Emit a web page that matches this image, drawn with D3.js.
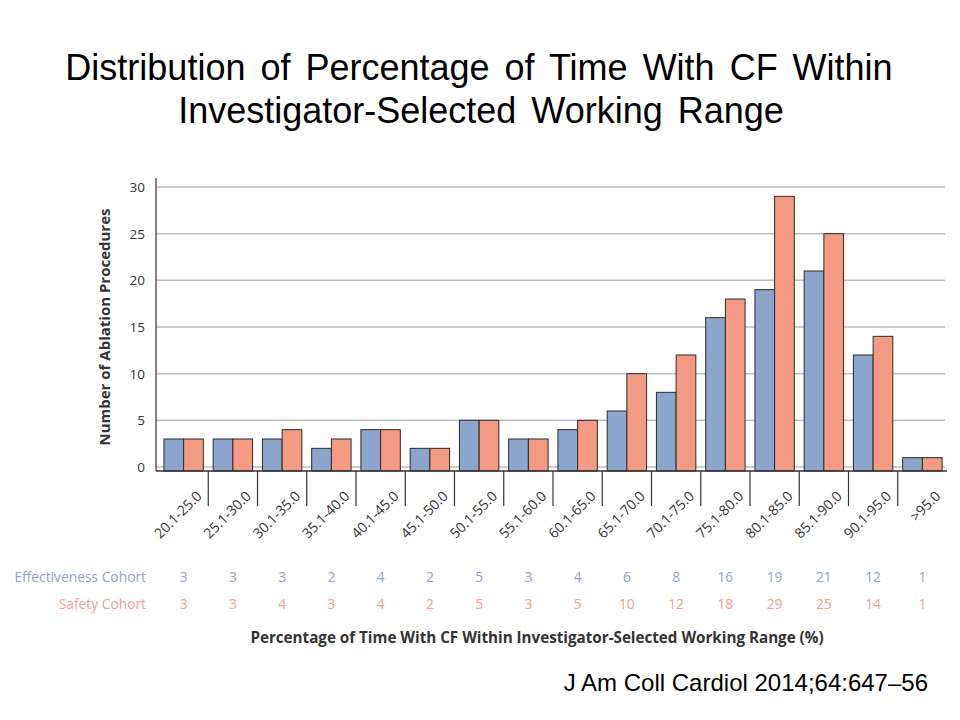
<!DOCTYPE html>
<html lang="en">
<head>
  <meta charset="UTF-8">
  <script src="https://cdnjs.cloudflare.com/ajax/libs/d3/7.8.5/d3.min.js"></script>
  <style>
    body { margin: 0; background: #fff; }
    .chart-text { font-family: 'Open Sans', 'Noto Sans', sans-serif; }
    .title { font-family: 'Liberation Sans', Arial, sans-serif; }
  </style>
  <title>Distribution</title>
</head>
<body>
  <div id="my_dataviz"></div>
<script>
  // categories and values
  const categories = ["20.1-25.0", "25.1-30.0", "30.1-35.0", "35.1-40.0", "40.1-45.0", "45.1-50.0",
    "50.1-55.0", "55.1-60.0", "60.1-65.0", "65.1-70.0", "70.1-75.0", "75.1-80.0",
    "80.1-85.0", "85.1-90.0", "90.1-95.0", ">95.0"];
  const effectiveness = [3, 3, 3, 2, 4, 2, 5, 3, 4, 6, 8, 16, 19, 21, 12, 1];
  const safety = [3, 3, 4, 3, 4, 2, 5, 3, 5, 10, 12, 18, 29, 25, 14, 1];
  const yTicks = [0, 5, 10, 15, 20, 25, 30];
  const seriesNames = ["Effectiveness Cohort", "Safety Cohort"];

  const blue = "#8ca5cd", salmon = "#f59a82";
  const blueText = "#8fa3c8", salmonText = "#f0a08c";

  var width = 960, height = 720;
  var svg = d3.select("#my_dataviz")
    .append("svg")
    .attr("width", width)
    .attr("height", height);

  // titles
  svg.append("text").attr("class", "title")
    .attr("x", 479).attr("y", 80)
    .attr("text-anchor", "middle")
    .style("font-size", "36px")
    .style("word-spacing", "5px")
    .text("Distribution of Percentage of Time With CF Within");
  svg.append("text").attr("class", "title")
    .attr("x", 481).attr("y", 123)
    .attr("text-anchor", "middle")
    .style("font-size", "36px")
    .style("word-spacing", "5px")
    .text("Investigator-Selected Working Range");

  // scales
  var x = d3.scaleBand()
    .domain(categories)
    .range([159, 947]);
  var x1 = d3.scaleBand()
    .domain(seriesNames)
    .range([0, x.bandwidth()])
    .paddingOuter(0.25);
  var y = d3.scaleLinear()
    .domain([0, 30])
    .range([467, 187]);
  var baseY = 471;

  // gridlines
  svg.append("g")
    .selectAll("line")
    .data(yTicks)
    .join("line")
    .attr("x1", 156).attr("x2", 945)
    .attr("y1", d => y(d)).attr("y2", d => y(d))
    .attr("stroke", "#bdbdbd")
    .attr("stroke-width", 1.5);

  // y tick labels
  svg.append("g")
    .selectAll("text")
    .data(yTicks)
    .join("text")
    .attr("class", "chart-text")
    .attr("x", 145)
    .attr("y", d => y(d) + 5)
    .attr("text-anchor", "end")
    .style("font-size", "13.5px")
    .attr("fill", "#333")
    .text(d => d);

  // bars
  var groups = svg.append("g")
    .selectAll("g")
    .data(categories)
    .join("g")
    .attr("transform", d => "translate(" + x(d) + ",0)");

  groups.selectAll("rect")
    .data((d, i) => [
      { key: seriesNames[0], value: effectiveness[i], color: blue },
      { key: seriesNames[1], value: safety[i], color: salmon }
    ])
    .join("rect")
    .attr("x", d => x1(d.key))
    .attr("width", x1.bandwidth())
    .attr("y", d => y(d.value))
    .attr("height", d => baseY - y(d.value))
    .attr("fill", d => d.color)
    .attr("stroke", "#2b2b2b")
    .attr("stroke-width", 1);

  // axes lines
  svg.append("line")
    .attr("x1", 156).attr("x2", 156)
    .attr("y1", 178).attr("y2", baseY)
    .attr("stroke", "#333").attr("stroke-width", 1.2);
  svg.append("line")
    .attr("x1", 156).attr("x2", 947)
    .attr("y1", baseY).attr("y2", baseY)
    .attr("stroke", "#333").attr("stroke-width", 1.5);

  // category separators
  svg.append("g")
    .selectAll("line")
    .data(categories.slice(1))
    .join("line")
    .attr("x1", d => x(d)).attr("x2", d => x(d))
    .attr("y1", baseY).attr("y2", 506)
    .attr("stroke", "#333").attr("stroke-width", 1.2);

  // rotated category labels
  svg.append("g")
    .selectAll("text")
    .data(categories)
    .join("text")
    .attr("class", "chart-text")
    .attr("text-anchor", "end")
    .attr("transform", d => "translate(" + (x(d) + x.bandwidth() / 2 + 19) + ",497) rotate(-45)")
    .style("font-size", "14px")
    .attr("fill", "#333")
    .text(d => d);

  // y axis title
  svg.append("text")
    .attr("class", "chart-text")
    .attr("transform", "translate(110," + (467 + 187) / 2 + ") rotate(-90)")
    .attr("text-anchor", "middle")
    .style("font-size", "15px")
    .style("font-weight", "bold")
    .attr("fill", "#333")
    .text("Number of Ablation Procedures");

  // count table
  var rows = [
    { name: seriesNames[0], values: effectiveness, color: blueText, y: 582 },
    { name: seriesNames[1], values: safety, color: salmonText, y: 609 }
  ];
  rows.forEach(function (r) {
    svg.append("text")
      .attr("class", "chart-text")
      .attr("x", 146).attr("y", r.y)
      .attr("text-anchor", "end")
      .style("font-size", "13.8px")
      .attr("fill", r.color)
      .text(r.name);
    svg.append("g")
      .selectAll("text")
      .data(r.values)
      .join("text")
      .attr("class", "chart-text")
      .attr("x", (d, i) => x(categories[i]) + x.bandwidth() / 2)
      .attr("y", r.y)
      .attr("text-anchor", "middle")
      .style("font-size", "13.8px")
      .attr("fill", r.color)
      .text(d => d);
  });

  // x axis title
  svg.append("text")
    .attr("class", "chart-text")
    .attr("x", 537).attr("y", 643)
    .attr("text-anchor", "middle")
    .style("font-size", "15.2px")
    .style("font-weight", "bold")
    .attr("fill", "#333")
    .text("Percentage of Time With CF Within Investigator-Selected Working Range (%)");

  // citation
  svg.append("text")
    .attr("class", "title")
    .attr("x", 928).attr("y", 691)
    .attr("text-anchor", "end")
    .style("font-size", "24px")
    .text("J Am Coll Cardiol 2014;64:647\u201356");
</script>
</body>
</html>
